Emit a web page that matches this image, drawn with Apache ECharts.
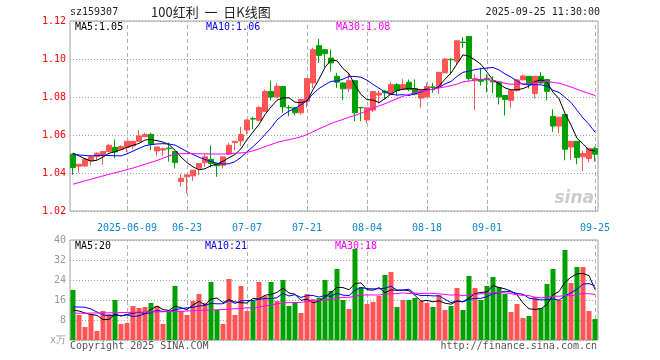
<!DOCTYPE html>
<html>
<head>
<meta charset="utf-8">
<script src="https://cdn.jsdelivr.net/npm/echarts@6/dist/echarts.min.js"></script>
<style>html,body{margin:0;padding:0;background:#fff}#c{width:660px;height:360px}</style>
</head>
<body>
<div id="c"></div>
<script>
// ---- categories (trading days) ----
const dates = [
'2025-05-26','2025-05-27','2025-05-28','2025-05-29','2025-05-30',
'2025-06-03','2025-06-04','2025-06-05','2025-06-06',
'2025-06-09','2025-06-10','2025-06-11','2025-06-12','2025-06-13',
'2025-06-16','2025-06-17','2025-06-18','2025-06-19','2025-06-20',
'2025-06-23','2025-06-24','2025-06-25','2025-06-26','2025-06-27',
'2025-06-30','2025-07-01','2025-07-02','2025-07-03','2025-07-04',
'2025-07-07','2025-07-08','2025-07-09','2025-07-10','2025-07-11',
'2025-07-14','2025-07-15','2025-07-16','2025-07-17','2025-07-18',
'2025-07-21','2025-07-22','2025-07-23','2025-07-24','2025-07-25',
'2025-07-28','2025-07-29','2025-07-30','2025-07-31','2025-08-01',
'2025-08-04','2025-08-05','2025-08-06','2025-08-07','2025-08-08',
'2025-08-11','2025-08-12','2025-08-13','2025-08-14','2025-08-15',
'2025-08-18','2025-08-19','2025-08-20','2025-08-21','2025-08-22',
'2025-08-25','2025-08-26','2025-08-27','2025-08-28','2025-08-29',
'2025-09-01','2025-09-02','2025-09-03','2025-09-04','2025-09-05',
'2025-09-08','2025-09-09','2025-09-10','2025-09-11','2025-09-12',
'2025-09-15','2025-09-16','2025-09-17','2025-09-18','2025-09-19',
'2025-09-22','2025-09-23','2025-09-24','2025-09-25'
];
const labelDates = ['2025-06-09','2025-06-23','2025-07-07','2025-07-21','2025-08-04','2025-08-18','2025-09-01','2025-09-25'];

// ---- price series ----
const opens = [
1.0499,1.0436,1.0437,1.0464,1.0488,1.0490,1.0513,1.0535,1.0525,1.0535,
1.0542,1.0567,1.0591,1.0603,1.0516,1.0521,1.0531,1.0513,1.0355,1.0380,
1.0385,1.0425,1.0455,1.0472,1.0450,1.0441,1.0499,1.0560,1.0569,1.0626,
1.0686,1.0677,1.0724,1.0829,1.0800,1.0855,1.0745,1.0743,1.0717,1.0778,
1.0874,1.1070,1.1049,1.1005,1.0909,1.0874,1.0843,1.0886,1.0745,1.0679,
1.0731,1.0810,1.0831,1.0813,1.0865,1.0839,1.0878,1.0843,1.0794,1.0800,
1.0853,1.0857,1.0927,1.0998,1.0988,1.1089,1.1119,1.0886,1.0892,1.0897,
1.0886,1.0879,1.0808,1.0782,1.0834,1.0890,1.0909,1.0818,1.0909,1.0892,
1.0698,1.0647,1.0708,1.0537,1.0567,1.0485,1.0476,1.0528
];
const closes = [
1.0429,1.0446,1.0472,1.0485,1.0504,1.0513,1.0546,1.0511,1.0539,1.0567,
1.0567,1.0595,1.0602,1.0551,1.0537,1.0528,1.0528,1.0455,1.0373,1.0390,
1.0415,1.0450,1.0485,1.0450,1.0438,1.0485,1.0546,1.0567,1.0602,1.0679,
1.0684,1.0745,1.0829,1.0800,1.0857,1.0748,1.0743,1.0717,1.0787,1.0897,
1.1049,1.1019,1.1028,1.0979,1.0878,1.0843,1.0886,1.0717,1.0743,1.0743,
1.0829,1.0820,1.0822,1.0865,1.0834,1.0865,1.0839,1.0815,1.0834,1.0855,
1.0850,1.0930,1.1000,1.0996,1.1096,1.1087,1.0897,1.0897,1.0883,1.0890,
1.0879,1.0800,1.0787,1.0834,1.0890,1.0911,1.0866,1.0909,1.0874,1.0830,
1.0647,1.0694,1.0525,1.0567,1.0481,1.0502,1.0530,1.0499
];
const lows = [
1.0390,1.0402,1.0432,1.0441,1.0467,1.0443,1.0510,1.0478,1.0520,1.0511,
1.0525,1.0565,1.0591,1.0521,1.0490,1.0490,1.0460,1.0424,1.0327,1.0292,
1.0359,1.0390,1.0432,1.0429,1.0380,1.0424,1.0495,1.0520,1.0542,1.0602,
1.0630,1.0672,1.0720,1.0783,1.0795,1.0717,1.0699,1.0703,1.0707,1.0745,
1.0848,1.0979,1.0958,1.0935,1.0848,1.0783,1.0825,1.0673,1.0673,1.0662,
1.0721,1.0766,1.0790,1.0813,1.0808,1.0839,1.0830,1.0808,1.0745,1.0800,
1.0822,1.0817,1.0927,1.0918,1.0970,1.1058,1.0885,1.0733,1.0860,1.0825,
1.0822,1.0761,1.0703,1.0742,1.0827,1.0890,1.0845,1.0792,1.0869,1.0783,
1.0617,1.0609,1.0467,1.0467,1.0446,1.0411,1.0455,1.0460
];
const highs = [
1.0505,1.0446,1.0480,1.0493,1.0509,1.0513,1.0554,1.0577,1.0546,1.0567,
1.0570,1.0626,1.0612,1.0612,1.0537,1.0533,1.0560,1.0513,1.0394,1.0394,
1.0415,1.0450,1.0499,1.0546,1.0452,1.0485,1.0558,1.0567,1.0643,1.0682,
1.0696,1.0752,1.0839,1.0886,1.0874,1.0855,1.0757,1.0745,1.0790,1.0897,
1.1058,1.1105,1.1049,1.1049,1.0927,1.0874,1.0927,1.0886,1.0748,1.0745,
1.0829,1.0831,1.0836,1.0878,1.0874,1.0895,1.0892,1.0892,1.0834,1.0874,
1.0874,1.0930,1.1005,1.1005,1.1096,1.1115,1.1119,1.0919,1.0953,1.0919,
1.0909,1.0879,1.0808,1.0834,1.0895,1.0919,1.0909,1.0909,1.0930,1.0892,
1.0735,1.0694,1.0708,1.0567,1.0567,1.0516,1.0530,1.0539
];
// moving-average values before enough history exists inside the window
const ma5Head = [1.0505,1.0490,1.0475,1.0463];
const ma10Head = [1.0499,1.0495,1.0492,1.0490,1.0491,1.0493,1.0492,1.0491,1.0490];
const ma30Head = [1.0341,1.0350,1.0359,1.0367,1.0376,1.0385,1.0393,1.0401,1.0409,1.0418,
1.0426,1.0436,1.0446,1.0456,1.0466,1.0478,1.0490,1.0500,1.0502,1.0502,
1.0502,1.0501,1.0501,1.0500,1.0500,1.0500,1.0502,1.0504,1.0506];

// ---- volume (万手) ----
const volumes = [
20,10,5.2,10.4,3.6,11.6,10.4,16,6.4,6.8,
13.6,12.8,13.2,14.8,13.6,6.4,11.2,21.6,11.6,10,
15.6,18.4,14.8,23.2,12,6.4,24.4,10,21.6,11.6,
15.6,23.2,17.6,23.2,15.6,24,13.6,15.2,10.8,18.4,
16.4,16.8,24,19.6,28.4,16,12.4,36.4,21.2,14.4,
15.2,17.6,26,27.2,13.2,16,16,16.8,15.6,14.8,
13.2,18,12,13.6,20.8,12,25.6,20.8,16,21.6,
25.2,21.2,18.4,11.2,14.4,8.8,9.6,17.2,12.8,22.4,
28.4,16,36,22.8,29.2,29.2,11.6,8.4
];
const vma5Head = [12.0,11.6,10.8,10.2];
const vma10Head = [13.2,13.2,13.1,12.4,11.2,10.0,9.7,9.9,9.7];
const vma30Head = [10.7,10.7,10.7,10.8,10.8,10.8,10.9,10.9,11.0,11.0,
11.1,11.1,11.2,11.2,11.3,11.3,11.4,11.4,11.5,11.6,
11.7,11.8,11.9,12.0,12.1,12.2,12.3,12.5,12.6];

const priceTicks = {min:1.02, max:1.12, interval:0.02};
const volTicks = {min:0, max:40, interval:8};

// ---- build ----
function sma(arr, n, head){
  return arr.map((v,i)=>{
    if(i < n-1) return head[i];
    let s=0; for(let k=i-n+1;k<=i;k++) s+=arr[k];
    return +(s/n).toFixed(5);
  });
}
const ma5 = sma(closes,5,ma5Head), ma10 = sma(closes,10,ma10Head), ma30 = sma(closes,30,ma30Head);
const vma5 = sma(volumes,5,vma5Head), vma10 = sma(volumes,10,vma10Head), vma30 = sma(volumes,30,vma30Head);
const last = dates.length-1;

const UP='#ff5555', DOWN='#00a000';
const mono='"DejaVu Sans Mono", monospace';
const labelSet = new Set(labelDates);
const kData = dates.map((d,i)=>[opens[i],closes[i],lows[i],highs[i]]);
const volData = volumes.map((v,i)=>({value:v, itemStyle:{color: closes[i]>opens[i]?UP:DOWN}}));
const vLines = labelDates.map(d=>({xAxis:d}));
const vLineStyle = {type:[4,3], color:'#b0b0b0', width:1};

function txt(text, x, y, color, font, align){
  return {type:'text', x:x, y:y, silent:true, z:100,
    style:{text:text, fill:color, font:font||('10px '+mono), align:align||'left', textAlign:align||'left',
           verticalAlign:'middle', textVerticalAlign:'middle'}};
}

const chart = echarts.init(document.getElementById('c'));
chart.setOption({
  animation:false,
  backgroundColor:'#fff',
  grid:[
    {left:70, top:21, width:528, height:190, show:true, borderColor:'#a0a0a0', borderWidth:1},
    {left:70, top:240, width:528, height:100, show:true, borderColor:'#a0a0a0', borderWidth:1}
  ],
  xAxis:[
    {type:'category', gridIndex:0, data:dates, boundaryGap:true,
     axisLine:{show:false},
     axisTick:{show:true, inside:true, length:5, alignWithLabel:true, interval:(i,v)=>labelSet.has(v), lineStyle:{color:'#b0b0b0'}},
     axisLabel:{interval:(i,v)=>labelSet.has(v), formatter:(v)=> v===labelDates[0]? v : v.slice(5),
       color:'#1088d8', fontFamily:mono, fontSize:10, margin:12},
     splitLine:{show:false}},
    {type:'category', gridIndex:1, data:dates, boundaryGap:true,
     axisLine:{show:false}, axisTick:{show:false}, axisLabel:{show:false}, splitLine:{show:false}}
  ],
  yAxis:[
    {type:'value', gridIndex:0, min:priceTicks.min, max:priceTicks.max, interval:priceTicks.interval,
     axisLine:{show:false}, axisTick:{show:false},
     axisLabel:{color:'#ff0000', fontFamily:mono, fontSize:10, margin:4, formatter:v=>v.toFixed(2)},
     splitLine:{show:true, lineStyle:{type:[1,2], color:'#a0a0a0'}}},
    {type:'value', gridIndex:1, min:volTicks.min, max:volTicks.max, interval:volTicks.interval,
     axisLine:{show:false}, axisTick:{show:false},
     axisLabel:{color:'#999', fontFamily:mono, fontSize:10, margin:4, formatter:v=> v===0?'x万':String(v)},
     splitLine:{show:true, lineStyle:{type:[1,2], color:'#a0a0a0'}}}
  ],
  series:[
    {type:'candlestick', xAxisIndex:0, yAxisIndex:0, data:kData, barWidth:5,
     itemStyle:{color:UP, color0:DOWN, borderColor:UP, borderColor0:DOWN, borderWidth:1},
     markLine:{silent:true, symbol:['none','none'], label:{show:false}, lineStyle:vLineStyle, data:vLines, z:1}},
    {type:'line', xAxisIndex:0, yAxisIndex:0, data:ma5, symbol:'none', lineStyle:{color:'#000', width:1}, z:5},
    {type:'line', xAxisIndex:0, yAxisIndex:0, data:ma10, symbol:'none', lineStyle:{color:'#0000ff', width:1}, z:5},
    {type:'line', xAxisIndex:0, yAxisIndex:0, data:ma30, symbol:'none', lineStyle:{color:'#ff00ff', width:1}, z:5},
    {type:'bar', xAxisIndex:1, yAxisIndex:1, data:volData, barWidth:5,
     markLine:{silent:true, symbol:['none','none'], label:{show:false}, lineStyle:vLineStyle, data:vLines, z:1}},
    {type:'line', xAxisIndex:1, yAxisIndex:1, data:vma5, symbol:'none', lineStyle:{color:'#000', width:1}, z:5},
    {type:'line', xAxisIndex:1, yAxisIndex:1, data:vma10, symbol:'none', lineStyle:{color:'#0000ff', width:1}, z:5},
    {type:'line', xAxisIndex:1, yAxisIndex:1, data:vma30, symbol:'none', lineStyle:{color:'#ff00ff', width:1}, z:5}
  ],
  graphic:[
    txt('sz159307', 70, 12, '#222'),
    txt('100红利  一  日K线图', 151, 12, '#222', '13px "Noto Sans CJK SC"'),
    txt('2025-09-25 11:30:00', 600, 12, '#222', '10px '+mono, 'right'),
    txt('MA5:'+ma5[last].toFixed(2), 75, 27, '#000'),
    txt('MA10:'+ma10[last].toFixed(2), 206, 27, '#0000ff'),
    txt('MA30:'+ma30[last].toFixed(2), 336, 27, '#ff00ff'),
    txt('MA5:'+Math.floor(vma5[last]), 75, 246, '#000'),
    txt('MA10:'+Math.floor(vma10[last]), 205, 246, '#0000ff'),
    txt('MA30:'+Math.floor(vma30[last]), 335, 246, '#ff00ff'),
    txt('Copyright 2025 SINA.COM', 70, 346, '#555'),
    txt('http://finance.sina.com.cn', 597, 346, '#555', '10px '+mono, 'right'),
    txt('sina', 594, 199, 'rgba(140,140,140,0.45)', 'italic bold 17px "DejaVu Sans"', 'right')
  ]
});
</script>
</body>
</html>
